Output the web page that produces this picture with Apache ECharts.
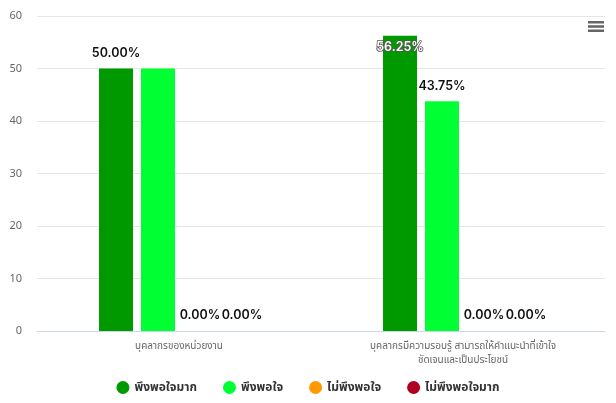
<!DOCTYPE html>
<html>
<head>
<meta charset="utf-8">
<script src="https://cdn.jsdelivr.net/npm/echarts@6/dist/echarts.min.js"></script>
<style>html,body{margin:0;padding:0;background:#fff}#c{width:616px;height:403px}</style>
</head>
<body>
<div id="c"></div>
<script>
var categories = ['บุคลากรของหน่วยงาน', 'บุคลากรมีความรอบรู้ สามารถให้คำแนะนำที่เข้าใจ\nชัดเจนและเป็นประโยชน์'];
var seriesNames = ['พึงพอใจมาก', 'พึงพอใจ', 'ไม่พึงพอใจ', 'ไม่พึงพอใจมาก'];
var veryGood = [50, 56.25];
var good = [50, 43.75];
var bad = [0, 0];
var veryBad = [0, 0];
var yTicks = [0, 10, 20, 30, 40, 50, 60];

var colors = ['#009900', '#00ff33', '#ff9900', '#b00020'];
var values = [veryGood, good, bad, veryBad];
// label overrides: [seriesIndex, dataIndex]
var hiddenLabels = [[1, 0]];
var insideLabels = [[0, 1]];
var FONT = "'Noto Sans', 'Noto Sans Thai', 'DejaVu Sans', sans-serif";
var LABEL_FONT = "Inter, 'Noto Sans', sans-serif";

function isIn(list, s, i) { return list.some(function (p) { return p[0] === s && p[1] === i; }); }

var series = values.map(function (vals, s) {
  return {
    name: seriesNames[s],
    type: 'bar',
    barWidth: 34,
    barGap: '23.5%',
    itemStyle: { color: colors[s] },
    label: {
      show: true,
      position: 'top',
      distance: 9,
      fontFamily: LABEL_FONT,
      fontSize: 12.5,
      fontWeight: 600,
      color: '#111',
      formatter: function (p) { return p.value.toFixed(2) + '%'; }
    },
    data: vals.map(function (v, i) {
      if (isIn(hiddenLabels, s, i)) return { value: v, label: { show: false } };
      if (isIn(insideLabels, s, i)) return { value: v, label: { position: 'insideTop', distance: 5, color: '#fff', textBorderColor: '#555', textBorderWidth: 1.5 } };
      return v;
    })
  };
});

var chart = echarts.init(document.getElementById('c'));
chart.setOption({
  animation: false,
  textStyle: { fontFamily: FONT },
  grid: { left: 37, right: 11, top: 16, bottom: 72, containLabel: false },
  toolbox: {
    right: 12, top: 21, itemSize: 16, padding: 0,
    iconStyle: { color: '#666', borderColor: '#666', borderWidth: 0 },
    feature: {
      myMenu: { show: true, title: '', icon: 'path://M0,0H16V2.6H0Z M0,4.2H16V6.8H0Z M0,8.4H16V11H0Z', onclick: function () {} }
    }
  },
  legend: {
    bottom: 4,
    left: 'center',
    icon: 'circle',
    itemWidth: 13,
    itemHeight: 13,
    itemGap: 26,
    textStyle: { fontFamily: FONT, fontSize: 12, color: '#333', fontWeight: 'bold' },
    data: seriesNames
  },
  xAxis: {
    type: 'category',
    data: categories,
    axisLine: { lineStyle: { color: '#ccd6eb' } },
    axisTick: { show: false },
    axisLabel: { color: '#666', fontSize: 10, margin: 8, lineHeight: 14, interval: 0, fontFamily: FONT }
  },
  yAxis: {
    type: 'value',
    min: yTicks[0],
    max: yTicks[yTicks.length - 1],
    interval: 10,
    axisLine: { show: false },
    axisTick: { show: false },
    splitLine: { lineStyle: { color: '#e6e6e6' } },
    axisLabel: { color: '#666', fontSize: 11, margin: 15, fontFamily: FONT }
  },
  series: series
});
</script>
</body>
</html>
